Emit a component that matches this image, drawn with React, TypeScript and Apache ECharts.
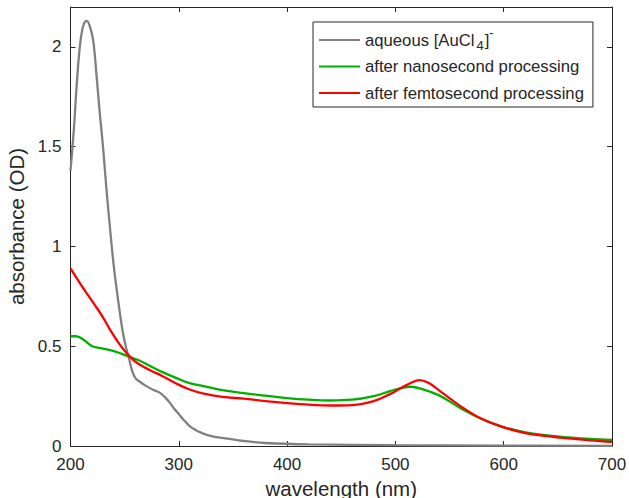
import React, { useEffect, useRef } from "react";
import * as echarts from "echarts";

const seriesNames = [
  "aqueous [AuCl4]-",
  "after nanosecond processing",
  "after femtosecond processing",
];

const xTicks = [200, 300, 400, 500, 600, 700];
const yTicks = [0, 0.5, 1, 1.5, 2];

const grayWl = [200, 203, 206, 209, 212, 215, 218, 221, 224, 227, 230, 233, 236, 240, 244, 248, 251, 254, 257, 260, 264, 270, 277, 283, 288, 292, 296, 300, 305, 310, 315, 320, 330, 345, 360, 380, 420, 500, 600, 700];
const grayAbs = [1.38, 1.58, 1.83, 2.02, 2.11, 2.13, 2.1, 2.03, 1.86, 1.67, 1.5, 1.3, 1.12, 0.9, 0.73, 0.58, 0.5, 0.44, 0.375, 0.34, 0.322, 0.3, 0.28, 0.265, 0.24, 0.215, 0.185, 0.16, 0.128, 0.1, 0.082, 0.068, 0.05, 0.037, 0.025, 0.015, 0.008, 0.004, 0.002, 0.001];

const greenWl = [200, 205, 210, 215, 220, 228, 240, 253, 263, 274, 285, 298, 310, 323, 340, 360, 380, 400, 420, 440, 460, 480, 495, 505, 514, 525, 540, 560, 580, 600, 620, 640, 660, 680, 700];
const greenAbs = [0.55, 0.55, 0.54, 0.52, 0.5, 0.49, 0.475, 0.45, 0.43, 0.4, 0.37, 0.34, 0.315, 0.3, 0.28, 0.265, 0.252, 0.24, 0.232, 0.228, 0.232, 0.25, 0.275, 0.29, 0.297, 0.285, 0.255, 0.19, 0.135, 0.095, 0.068, 0.053, 0.043, 0.035, 0.03];

const redWl = [200, 210, 222, 230, 237, 245, 250, 255, 260, 267, 274, 285, 298, 310, 323, 340, 360, 380, 400, 420, 440, 460, 480, 495, 505, 515, 522, 530, 540, 560, 580, 600, 620, 640, 660, 680, 700];
const redAbs = [0.89, 0.805, 0.71, 0.645, 0.578, 0.512, 0.477, 0.447, 0.422, 0.398, 0.378, 0.35, 0.312, 0.283, 0.262, 0.246, 0.237, 0.225, 0.215, 0.207, 0.203, 0.205, 0.225, 0.26, 0.29, 0.318, 0.33, 0.318, 0.28, 0.2, 0.135, 0.093, 0.065, 0.05, 0.038, 0.028, 0.02];

const colors = ["#808080", "#00b000", "#ff0000"];
const FONT = "Liberation Sans, Arial, Helvetica, sans-serif";
const AXIS_COLOR = "#262626";

function pairs(xs: number[], ys: number[]) {
  return xs.map((x, i) => [x, ys[i]]);
}

export default function App() {
  const ref = useRef<HTMLDivElement>(null);
  useEffect(() => {
    document.body.style.margin = "0";
    const chart = echarts.init(ref.current!, null, { renderer: "svg" });
    const axisCommon = {
      axisLine: { show: true, onZero: false, lineStyle: { color: AXIS_COLOR, width: 1 } },
      axisTick: { show: true, inside: true, length: 5, lineStyle: { color: AXIS_COLOR, width: 1 } },
      splitLine: { show: false },
    };
    const datas = [pairs(grayWl, grayAbs), pairs(greenWl, greenAbs), pairs(redWl, redAbs)];
    chart.setOption({
      animation: false,
      backgroundColor: "#ffffff",
      textStyle: { fontFamily: FONT },
      grid: { left: 70.5, right: 17, top: 7, bottom: 52, containLabel: false, outerBoundsMode: "none" },
      legend: {
        orient: "vertical",
        left: 313,
        top: 22,
        padding: [4, 9, 0, 6],
        itemGap: -1.5,
        itemWidth: 41,
        itemHeight: 2.2,
        icon: "rect",
        backgroundColor: "#ffffff",
        borderColor: AXIS_COLOR,
        borderWidth: 1,
        data: seriesNames,
        formatter: (name: string) =>
          name === seriesNames[0] ? "{n|aqueous [AuCl}{sub|4}{n|]}{sup|-}" : name,
        textStyle: {
          fontFamily: FONT,
          fontSize: 16.7,
          color: AXIS_COLOR,
          lineHeight: 28,
          rich: {
            n: { fontFamily: FONT, fontSize: 16.7, color: AXIS_COLOR, lineHeight: 28 },
            sub: { fontFamily: FONT, fontSize: 13, color: AXIS_COLOR, lineHeight: 8, verticalAlign: "top", padding: [13, 1, 0, 2] },
            sup: { fontFamily: FONT, fontSize: 13, color: AXIS_COLOR, lineHeight: 8, verticalAlign: "top", padding: [0, 0, 4, 0] },
          },
        },
      },
      xAxis: [
        {
          type: "value",
          position: "bottom",
          min: xTicks[0],
          max: xTicks[xTicks.length - 1],
          interval: 100,
          name: "wavelength (nm)",
          nameLocation: "middle",
          nameGap: 32,
          nameTextStyle: { fontFamily: FONT, fontSize: 20.5, color: AXIS_COLOR },
          axisLabel: { fontFamily: FONT, fontSize: 17, color: AXIS_COLOR, margin: 10 },
          ...axisCommon,
        },
        {
          type: "value",
          position: "top",
          min: xTicks[0],
          max: xTicks[xTicks.length - 1],
          interval: 100,
          axisLabel: { show: false },
          ...axisCommon,
        },
      ],
      yAxis: [
        {
          type: "value",
          position: "left",
          min: yTicks[0],
          max: 2.2,
          interval: 0.5,
          name: "absorbance (OD)",
          nameLocation: "middle",
          nameGap: 34,
          nameTextStyle: { fontFamily: FONT, fontSize: 20.5, color: AXIS_COLOR },
          axisLabel: { fontFamily: FONT, fontSize: 17, color: AXIS_COLOR, margin: 9, showMaxLabel: false },
          ...axisCommon,
        },
        {
          type: "value",
          position: "right",
          min: yTicks[0],
          max: 2.2,
          interval: 0.5,
          axisLabel: { show: false },
          ...axisCommon,
        },
      ],
      series: seriesNames.map((name, i) => ({
        name,
        type: "line",
        xAxisIndex: 0,
        yAxisIndex: 0,
        data: datas[i],
        showSymbol: false,
        symbol: "none",
        smooth: 0.4,
        lineStyle: { color: colors[i], width: 2.3 },
        itemStyle: { color: colors[i] },
        z: 3 + i,
      })),
    });
    return () => chart.dispose();
  }, []);
  return <div ref={ref} style={{ width: 629, height: 498 }} />;
}
